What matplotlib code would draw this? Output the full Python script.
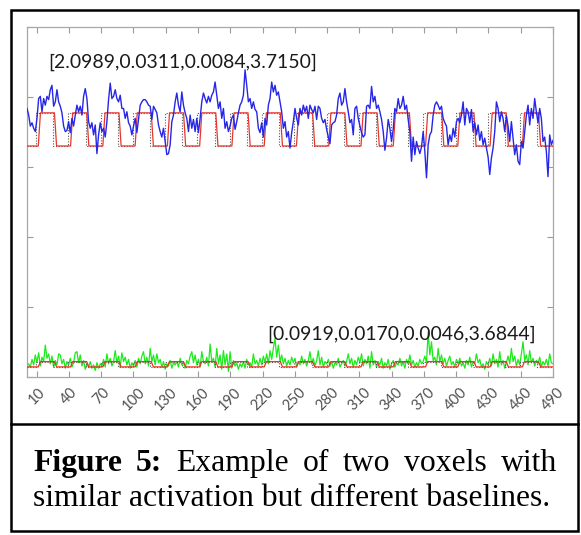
import numpy as np
import matplotlib
matplotlib.use("Agg")
import matplotlib.pyplot as plt
from matplotlib.patches import Rectangle
from matplotlib.lines import Line2D

# ---------------- data ----------------
blue_signal = [
    # t ~ 1 .. 123
    2.44, 2.38, 2.28, 2.31, 2.26, 2.23, 2.35, 2.53, 2.55, 2.41,
    2.53, 2.47, 2.55, 2.52, 2.61, 2.65, 2.46, 2.50, 2.61, 2.50,
    2.46, 2.40, 2.28, 2.23, 2.24, 2.32, 2.22, 2.35, 2.28, 2.38,
    2.47, 2.41, 2.46, 2.38, 2.55, 2.62, 2.53, 2.32, 2.26, 2.31,
    2.20, 2.29, 2.03, 2.20, 2.31, 2.23, 2.26, 2.18, 2.32, 2.52,
    2.67, 2.53, 2.55, 2.61, 2.53, 2.50, 2.56, 2.44, 2.44, 2.35,
    2.41, 2.31, 2.28, 2.20, 2.28, 2.35, 2.22, 2.34, 2.47, 2.50,
    2.52, 2.52, 2.50, 2.47, 2.46, 2.34, 2.46, 2.43, 2.40, 2.29,
    # t ~ 124 .. 243
    2.23, 2.18, 2.26, 2.14, 2.02, 2.03, 2.11, 2.32, 2.38, 2.50,
    2.58, 2.47, 2.41, 2.59, 2.47, 2.40, 2.35, 2.23, 2.38, 2.26,
    2.34, 2.23, 2.35, 2.22, 2.35, 2.50, 2.58, 2.53, 2.49, 2.55,
    2.50, 2.56, 2.59, 2.68, 2.56, 2.44, 2.50, 2.35, 2.44, 2.26,
    2.32, 2.23, 2.28, 2.35, 2.38, 2.25, 2.32, 2.40, 2.47, 2.50,
    2.56, 2.79, 2.65, 2.50, 2.53, 2.44, 2.50, 2.43, 2.41, 2.26,
    2.22, 2.31, 2.18, 2.35, 2.29, 2.47, 2.53, 2.68, 2.59, 2.65,
    2.56, 2.59, 2.50, 2.41, 2.26, 2.32, 2.18, 2.23,
    # t ~ 245 .. 364
    2.08, 2.22, 2.32, 2.44, 2.35, 2.29, 2.44, 2.38, 2.47, 2.41,
    2.46, 2.35, 2.47, 2.43, 2.40, 2.46, 2.34, 2.46, 2.44, 2.35,
    2.31, 2.34, 2.25, 2.18, 2.12, 2.29, 2.31, 2.32, 2.38, 2.53,
    2.58, 2.47, 2.50, 2.62, 2.50, 2.41, 2.31, 2.34, 2.20, 2.44,
    2.46, 2.35, 2.28, 2.22, 2.18, 2.20, 2.46, 2.47, 2.44, 2.64,
    2.50, 2.55, 2.44, 2.47, 2.41, 2.34, 2.23, 2.06, 2.17, 2.34,
    2.26, 2.14, 2.25, 2.44, 2.41, 2.53, 2.44, 2.47, 2.55, 2.43,
    2.47, 2.34, 2.23, 1.96, 2.18, 2.02, 2.14, 2.08,
    # t ~ 366 .. 490
    2.03, 2.09, 2.23, 2.05, 1.81, 2.11, 2.20, 2.23, 2.38, 2.47,
    2.50, 2.47, 2.43, 2.46, 2.35, 2.31, 2.28, 2.11, 2.20, 2.14,
    2.26, 2.18, 2.32, 2.35, 2.31, 2.38, 2.50, 2.29, 2.44, 2.41,
    2.31, 2.43, 2.23, 2.31, 2.20, 2.29, 2.15, 2.23, 2.11, 2.17,
    2.08, 2.00, 1.84, 1.99, 2.08, 2.23, 2.50, 2.44, 2.32, 2.41,
    2.35, 2.23, 2.37, 2.28, 2.14, 2.32, 2.17, 2.02, 2.11, 1.96,
    1.93, 2.14, 2.08, 2.23, 2.38, 2.47, 2.29, 2.44, 2.35, 2.53,
    2.41, 2.31, 2.44, 2.35, 2.14, 2.18, 2.05, 1.82, 2.20, 2.11,
    2.15,
]

green_signal = [
    0.10, 0.12, 0.09, 0.16, 0.11, 0.20, 0.13, 0.22, 0.10, 0.18,
    0.14, 0.29, 0.17, 0.21, 0.12, 0.19, 0.09, 0.15, 0.11, 0.21,
    0.20, 0.12, 0.16, 0.08, 0.14, 0.11, 0.17, 0.09, 0.13, 0.22,
    0.23, 0.13, 0.20, 0.10, 0.15, 0.07, 0.12, 0.09, 0.14, 0.08,
    0.11, 0.06, 0.13, 0.08, 0.12, 0.10, 0.16, 0.09, 0.21, 0.12,
    0.17, 0.10, 0.14, 0.24, 0.13, 0.19, 0.09, 0.22, 0.14, 0.18,
    0.11, 0.16, 0.08, 0.13, 0.10, 0.15, 0.09, 0.17, 0.12, 0.19,
    0.23, 0.12, 0.18, 0.10, 0.26, 0.14, 0.20, 0.11, 0.21, 0.13,
    0.16, 0.09, 0.14, 0.07, 0.12, 0.10, 0.15, 0.08, 0.13, 0.11,
    0.14, 0.09, 0.17, 0.11, 0.13, 0.08, 0.15, 0.12, 0.19, 0.23,
    0.13, 0.20, 0.11, 0.16, 0.09, 0.23, 0.14, 0.12, 0.18, 0.10,
    0.30, 0.14, 0.17, 0.09, 0.26, 0.12, 0.20, 0.07, 0.24, 0.11,
    0.21, 0.05, 0.23, 0.08, 0.15, 0.10, 0.13, 0.07, 0.12, 0.09,
    0.14, 0.08, 0.16, 0.11, 0.13, 0.09, 0.21, 0.12, 0.15, 0.10,
    0.17, 0.11, 0.19, 0.13, 0.21, 0.12, 0.24, 0.16, 0.26, 0.35,
    0.18, 0.29, 0.14, 0.20, 0.12, 0.17, 0.10, 0.15, 0.11, 0.18,
    0.13, 0.17, 0.09, 0.14, 0.11, 0.19, 0.12, 0.16, 0.10, 0.15,
    0.23, 0.12, 0.17, 0.10, 0.15, 0.24, 0.11, 0.18, 0.09, 0.14,
    0.12, 0.16, 0.10, 0.14, 0.08, 0.13, 0.11, 0.17, 0.09, 0.12,
    0.15, 0.10, 0.14, 0.21, 0.12, 0.17, 0.09, 0.15, 0.11, 0.18,
    0.13, 0.21, 0.10, 0.16, 0.12, 0.19, 0.08, 0.23, 0.11, 0.15,
    0.09, 0.14, 0.11, 0.17, 0.08, 0.13, 0.10, 0.16, 0.07, 0.12,
    0.15, 0.09, 0.13, 0.11, 0.17, 0.10, 0.14, 0.08, 0.16, 0.12,
    0.20, 0.11, 0.15, 0.09, 0.13, 0.10, 0.16, 0.12, 0.14, 0.19,
    0.13, 0.41, 0.20, 0.32, 0.15, 0.18, 0.11, 0.26, 0.14, 0.20,
    0.12, 0.17, 0.10, 0.15, 0.19, 0.11, 0.14, 0.09, 0.16, 0.12,
    0.17, 0.10, 0.13, 0.08, 0.15, 0.11, 0.18, 0.09, 0.14, 0.12,
    0.21, 0.13, 0.16, 0.09, 0.12, 0.07, 0.14, 0.11, 0.17, 0.10,
    0.21, 0.12, 0.16, 0.09, 0.23, 0.11, 0.15, 0.08, 0.13, 0.19,
    0.12, 0.26, 0.14, 0.19, 0.10, 0.16, 0.11, 0.21, 0.32, 0.15,
    0.20, 0.11, 0.24, 0.13, 0.17, 0.10, 0.15, 0.12, 0.18, 0.09,
    0.14, 0.11, 0.16, 0.10, 0.21, 0.13, 0.12,
]

# onsets (scan index) of the model-response rises
block_onsets = [11.5, 41.5, 71.5, 101.5, 131.5, 161.5, 191.5, 221.5,
                251.5, 281.5, 311.5, 341.5, 371.5, 401.5, 431.5, 461.5]
blue_levels = [2.0989, 2.40]     # model baseline / active level (top voxel)
green_levels = [0.0919, 0.14]    # model baseline / active level (bottom voxel)
n_scans = 490

x_ticks = [10, 40, 70, 100, 130, 160, 190, 220, 250, 280, 310, 340,
           370, 400, 430, 460, 490]
label_top = "[2.0989,0.0311,0.0084,3.7150]"
label_bottom = "[0.0919,0.0170,0.0046,3.6844]"
caption_line1 = [("Figure", "bold"), ("5:", "bold"), ("Example", "normal"),
                 ("of", "normal"), ("two", "normal"), ("voxels", "normal"),
                 ("with", "normal")]
caption_line2 = "similar activation but different baselines."

# ---------------- helpers ----------------
def model_curve(onsets, lo, hi, ramp=2.0, plateau=13.0):
    t, y = [1], [lo]
    for o in onsets:
        t += [o, o + ramp, o + ramp + plateau, o + 2 * ramp + plateau]
        y += [lo, hi, hi, lo]
    t.append(n_scans)
    y.append(lo)
    return t, y

def boxcar(onsets, lo, hi, lead=2.0, dur=16.0):
    t, y = [1], [lo]
    for o in onsets:
        a = o - lead
        t += [a, a, a + dur, a + dur]
        y += [lo, hi, hi, lo]
    t.append(n_scans)
    y.append(lo)
    return t, y

# ---------------- figure ----------------
W, H = 581, 535
fig = plt.figure(figsize=(W / 100, H / 100), dpi=100)
fig.patch.set_facecolor("white")

ax_l, ax_r, ax_t, ax_b = 27, 553, 27, 377
ax = fig.add_axes([ax_l / W, 1 - ax_b / H, (ax_r - ax_l) / W, (ax_b - ax_t) / H])

t_blue = np.linspace(1, n_scans, len(blue_signal))
t_green = np.linspace(1, n_scans, len(green_signal))

red = "#e8362c"
bt, by = boxcar(block_onsets, *blue_levels)
mt, my = model_curve(block_onsets, *blue_levels)
ax.plot(bt, by, color="#555555", lw=0.8, ls=(0, (1, 1.5)), zorder=2)
ax.plot(mt, my, color=red, lw=0.9, zorder=3)
ax.plot(t_blue, blue_signal, color="#2626e8", lw=1.0, zorder=4)

ax.plot(t_green, green_signal, color="#1bea1b", lw=0.9, zorder=2)
gt, gy = boxcar(block_onsets, *green_levels)
gmt, gmy = model_curve(block_onsets, *green_levels)
ax.plot(gt, gy, color="#555555", lw=0.8, ls=(0, (1, 1.5)), zorder=3)
ax.plot(gmt, gmy, color=red, lw=0.9, zorder=3)

ax.set_xlim(1, n_scans)
ax.set_ylim(0, 3.18)
ax.set_yticks(np.linspace(0, 3.18, 6))
ax.set_xticks(x_ticks)
ax.set_xticklabels([str(v) for v in x_ticks], rotation=45, ha="center",
                   fontsize=10.5, color="#505050", family="Lato")
ax.tick_params(direction="in", length=4, width=0.8, color="#9a9a9a",
               top=True, right=True, labelleft=False, pad=6)
for s in ax.spines.values():
    s.set_color("#a8a8a8")
    s.set_linewidth(0.9)

renderer = fig.canvas.get_renderer()

def fit_text(txt, target_w, base=14, **kw):
    tt = fig.text(0, 0, txt, fontsize=base, **kw)
    w = tt.get_window_extent(renderer).width
    tt.remove()
    return base * target_w / w

fs_ann = fit_text(label_top, 270, family="Lato")
ax.text((48 - ax_l) / (ax_r - ax_l), (ax_b - 68) / (ax_b - ax_t), label_top,
        transform=ax.transAxes, fontsize=fs_ann, family="Lato",
        color="#1a1a1a", va="baseline", ha="left", zorder=6)
ax.text((267 - ax_l) / (ax_r - ax_l), (ax_b - 340) / (ax_b - ax_t), label_bottom,
        transform=ax.transAxes, fontsize=fs_ann, family="Lato",
        color="#1a1a1a", va="baseline", ha="left", zorder=6)

# ---------------- frame and caption ----------------
fig.add_artist(Rectangle((10.5 / W, 1 - 531 / H), (577.5 - 10.5) / W, (531 - 10) / H,
                         transform=fig.transFigure, fill=False, lw=1.8,
                         edgecolor="black"))
fig.add_artist(Line2D([10.5 / W, 577.5 / W], [1 - 424 / H, 1 - 424 / H],
                      transform=fig.transFigure, color="black", lw=1.8))

serif = "Liberation Serif"
fs_cap = fit_text(caption_line2, 517, base=20, family=serif)
fig.text(33 / W, 1 - 506 / H, caption_line2, fontsize=fs_cap, family=serif,
         va="baseline", ha="left")

words = []
total = 0.0
for w_txt, weight in caption_line1:
    tt = fig.text(0, 1 - 471 / H, w_txt, fontsize=fs_cap, family=serif,
                  weight=weight, va="baseline", ha="left")
    ww = tt.get_window_extent(renderer).width
    words.append((tt, ww))
    total += ww
gap = (557 - 33 - total) / (len(words) - 1)
x = 33.0
for tt, ww in words:
    tt.set_x(x / W)
    x += ww + gap

fig.savefig("out.png", dpi=100, facecolor="white")
